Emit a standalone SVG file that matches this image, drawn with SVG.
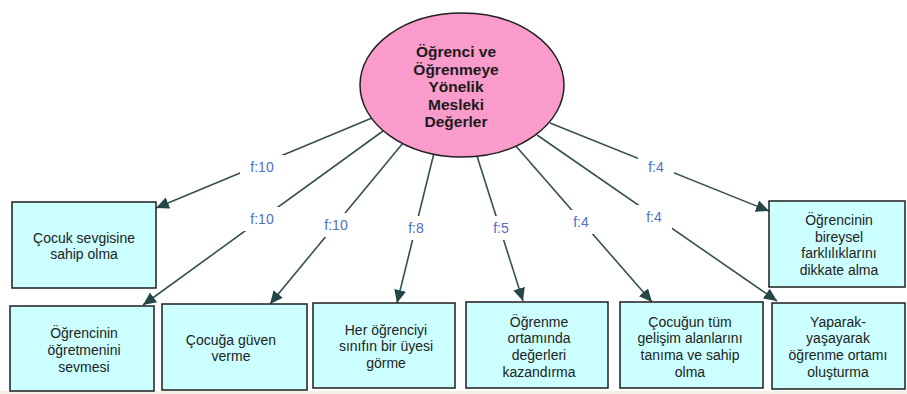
<svg xmlns="http://www.w3.org/2000/svg" width="907" height="394" viewBox="0 0 907 394">
  <style>
    .box { fill: #ccffff; stroke: #1e1e1e; stroke-width: 1.5; }
    .btxt { font-family: "Liberation Sans", Arial, sans-serif; font-size: 14px; fill: #222; text-anchor: middle; }
    .hub { fill: #f99ccb; stroke: #1e1e1e; stroke-width: 1.5; }
    .htxt { font-family: "Liberation Sans", Arial, sans-serif; font-size: 15.5px; font-weight: bold; fill: #1a1a1a; text-anchor: middle; }
    .edge { stroke: #35504f; stroke-width: 1.6; fill: none; marker-end: url(#head); }
    .lbg { fill: #ffffff; }
    .ltxt { font-family: "Liberation Sans", Arial, sans-serif; font-size: 14px; fill: #4f6fc6; text-anchor: middle; }
  </style>
  <defs>
    <marker id="head" markerUnits="userSpaceOnUse" markerWidth="16" markerHeight="14" refX="13" refY="6" orient="auto">
      <path d="M0,0 L13,6 L0,12 Z" fill="#244646"/>
    </marker>
  </defs>

  <rect x="0" y="0" width="907" height="394" fill="#ffffff"/>
  <rect x="0" y="391" width="907" height="3" fill="#f2efe5"/>

  <!-- connectors from the central value to each item -->
  <g id="connectors">
    <line class="edge" x1="372" y1="118" x2="156" y2="208"/>
    <line class="edge" x1="383" y1="131" x2="143" y2="305"/>
    <line class="edge" x1="403" y1="143" x2="270" y2="304"/>
    <line class="edge" x1="434" y1="153" x2="397" y2="303"/>
    <line class="edge" x1="477" y1="156" x2="523" y2="301"/>
    <line class="edge" x1="515" y1="145" x2="652" y2="302"/>
    <line class="edge" x1="537" y1="135" x2="777" y2="301"/>
    <line class="edge" x1="550" y1="123" x2="769" y2="211"/>

    <rect class="lbg" x="240" y="155" width="44" height="24"/>
    <text class="ltxt" x="262" y="172">f:10</text>
    <rect class="lbg" x="240" y="207" width="44" height="24"/>
    <text class="ltxt" x="262" y="224">f:10</text>
    <rect class="lbg" x="314" y="213" width="44" height="24"/>
    <text class="ltxt" x="336" y="230">f:10</text>
    <rect class="lbg" x="398" y="216" width="36" height="24"/>
    <text class="ltxt" x="416" y="233">f:8</text>
    <rect class="lbg" x="483" y="216" width="36" height="24"/>
    <text class="ltxt" x="501" y="233">f:5</text>
    <rect class="lbg" x="563" y="210" width="36" height="24"/>
    <text class="ltxt" x="581" y="227">f:4</text>
    <rect class="lbg" x="636" y="205" width="36" height="24"/>
    <text class="ltxt" x="654" y="222">f:4</text>
    <rect class="lbg" x="638" y="155" width="36" height="24"/>
    <text class="ltxt" x="656" y="172">f:4</text>
  </g>

  <g id="hub">
    <ellipse class="hub" cx="462" cy="85" rx="102" ry="72"/>
    <text class="htxt" x="456" y="57">Öğrenci ve</text>
    <text class="htxt" x="456" y="74.5">Öğrenmeye</text>
    <text class="htxt" x="456" y="92">Yönelik</text>
    <text class="htxt" x="456" y="109.5">Mesleki</text>
    <text class="htxt" x="456" y="127">Değerler</text>
  </g>

  <g id="cocuk-sevgisi">
    <rect class="box" x="12" y="202" width="144" height="86"/>
    <text class="btxt" x="84" y="243">Çocuk sevgisine</text>
    <text class="btxt" x="84" y="259">sahip olma</text>
  </g>

  <g id="bireysel-farklilik">
    <rect class="box" x="769" y="201" width="136" height="86"/>
    <text class="btxt" x="839" y="225">Öğrencinin</text>
    <text class="btxt" x="839" y="242">bireysel</text>
    <text class="btxt" x="839" y="258">farklılıklarını</text>
    <text class="btxt" x="839" y="275">dikkate alma</text>
  </g>

  <g id="ogretmeni-sevme">
    <rect class="box" x="10" y="306" width="144" height="85"/>
    <text class="btxt" x="84" y="338">Öğrencinin</text>
    <text class="btxt" x="84" y="355">öğretmenini</text>
    <text class="btxt" x="84" y="372">sevmesi</text>
  </g>

  <g id="guven-verme">
    <rect class="box" x="162" y="304" width="145" height="86"/>
    <text class="btxt" x="231" y="345">Çocuğa güven</text>
    <text class="btxt" x="231" y="361">verme</text>
  </g>

  <g id="sinif-uyesi">
    <rect class="box" x="313" y="303" width="142" height="85"/>
    <text class="btxt" x="386" y="335">Her öğrenciyi</text>
    <text class="btxt" x="386" y="351">sınıfın bir üyesi</text>
    <text class="btxt" x="386" y="368">görme</text>
  </g>

  <g id="deger-kazandirma">
    <rect class="box" x="466" y="302" width="142" height="86"/>
    <text class="btxt" x="539" y="327">Öğrenme</text>
    <text class="btxt" x="539" y="343">ortamında</text>
    <text class="btxt" x="539" y="360">değerleri</text>
    <text class="btxt" x="539" y="377">kazandırma</text>
  </g>

  <g id="gelisim-alanlari">
    <rect class="box" x="620" y="302" width="143" height="86"/>
    <text class="btxt" x="690" y="327">Çocuğun tüm</text>
    <text class="btxt" x="690" y="343">gelişim alanlarını</text>
    <text class="btxt" x="690" y="360">tanıma ve sahip</text>
    <text class="btxt" x="690" y="377">olma</text>
  </g>

  <g id="yaparak-yasayarak">
    <rect class="box" x="772" y="303" width="133" height="86"/>
    <text class="btxt" x="838" y="327">Yaparak-</text>
    <text class="btxt" x="838" y="343">yaşayarak</text>
    <text class="btxt" x="838" y="360">öğrenme ortamı</text>
    <text class="btxt" x="838" y="377">oluşturma</text>
  </g>
</svg>
